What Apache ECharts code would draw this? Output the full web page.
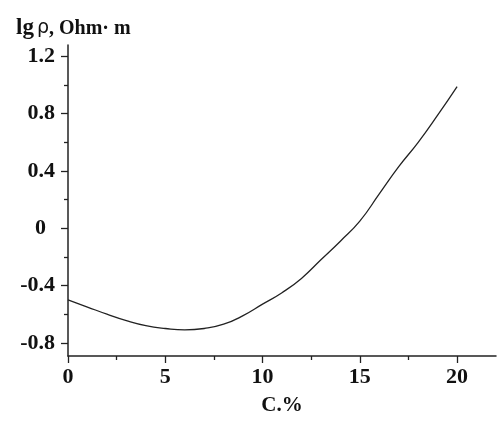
<!DOCTYPE html>
<html><head><meta charset="utf-8">
<script src="https://cdn.jsdelivr.net/npm/echarts@6/dist/echarts.min.js"></script>
<style>html,body{margin:0;padding:0;background:#fff}#c{width:497px;height:421px}</style>
</head><body><div id="c"></div>
<script>
const xValues = [0,1,2,3,4,5,6,7,8,9,10,11,12,13,14,15,16,17,18,19,20];
const yValues = [-0.50,-0.55,-0.60,-0.645,-0.68,-0.70,-0.71,-0.70,-0.67,-0.61,-0.53,-0.45,-0.35,-0.22,-0.09,0.05,0.24,0.43,0.60,0.79,0.99];
const xMajorTicks = [0,5,10,15,20];
const xMinorTicks = [2.5,7.5,12.5,17.5];
const yMajorTicks = [-0.8,-0.4,0,0.4,0.8,1.2];
const yMinorTicks = [-0.6,-0.2,0.2,0.6,1.0];
const xName = 'C.%';

const font = 'Liberation Serif';
const labelStyle = {fontFamily: font, fontWeight: 'bold', fontSize: 22, color: '#111'};
const chart = echarts.init(document.getElementById('c'), null, {renderer: 'canvas'});
chart.setOption({
  animation: false,
  backgroundColor: '#fff',
  title: {
    text: '{a|lg}{b|ρ}{c|, Ohm· m}',
    left: 11, top: 12,
    textStyle: {
      rich: {
        a: {fontFamily: font, fontWeight: 'bold', fontSize: 23, color: '#111'},
        b: {fontFamily: 'DejaVu Sans', fontWeight: 'normal', fontSize: 19, color: '#111', padding: [0, 0, 0, 3]},
        c: {fontFamily: font, fontWeight: 'bold', fontSize: 20, color: '#111'}
      }
    }
  },
  grid: {left: 68, right: 1, top: 45, bottom: 58},
  xAxis: [{
    type: 'value', min: 0, max: 22,
    axisLine: {show: true, onZero: false, lineStyle: {color: '#222', width: 1.5}},
    axisTick: {show: true, customValues: xMajorTicks, length: 7, lineStyle: {color: '#222', width: 1.3}},
    axisLabel: Object.assign({customValues: xMajorTicks, margin: 10}, labelStyle),
    splitLine: {show: false},
    name: xName, nameLocation: 'middle', nameGap: 39,
    nameTextStyle: {fontFamily: font, fontWeight: 'bold', fontSize: 21, color: '#111'}
  }, {
    type: 'value', min: 0, max: 22, position: 'bottom',
    axisLine: {show: false, onZero: false},
    axisTick: {show: true, customValues: xMinorTicks, length: 4, lineStyle: {color: '#222', width: 1.3}},
    axisLabel: {show: false},
    splitLine: {show: false}
  }],
  yAxis: [{
    type: 'value', min: -0.892, max: 1.28,
    axisLine: {show: true, onZero: false, lineStyle: {color: '#222', width: 1.5}},
    axisTick: {show: true, customValues: yMajorTicks, length: 7, lineStyle: {color: '#222', width: 1.3}},
    axisLabel: Object.assign({
      customValues: yMajorTicks, margin: 13,
      formatter: v => Math.abs(v) < 1e-9 ? '{z|0}' : v.toFixed(1),
      rich: {z: {fontFamily: font, fontWeight: 'bold', fontSize: 22, color: '#111', padding: [0, 9, 0, 0]}}
    }, labelStyle),
    splitLine: {show: false}
  }, {
    type: 'value', min: -0.892, max: 1.28, position: 'left',
    axisLine: {show: false, onZero: false},
    axisTick: {show: true, customValues: yMinorTicks, length: 4, lineStyle: {color: '#222', width: 1.3}},
    axisLabel: {show: false},
    splitLine: {show: false}
  }],
  series: [{
    type: 'line',
    data: xValues.map((x, i) => [x, yValues[i]]),
    smooth: true,
    showSymbol: false,
    lineStyle: {color: '#222', width: 1.3}
  }]
});
</script></body></html>
